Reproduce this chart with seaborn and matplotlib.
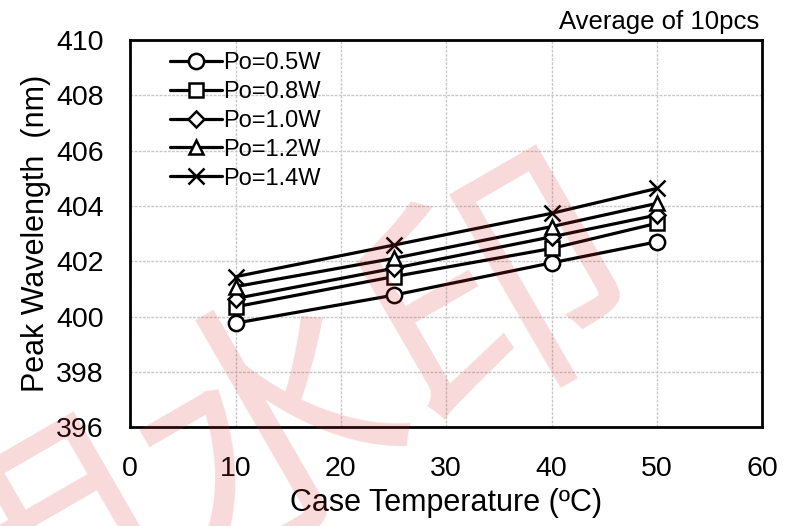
import numpy as np
import pandas as pd
import matplotlib
matplotlib.use("Agg")
import matplotlib.pyplot as plt
import seaborn as sns

# Case temperature (C) and peak wavelength (nm), average of 10pcs
temps = [10, 25, 40, 50]
po_labels = ["Po=0.5W", "Po=0.8W", "Po=1.0W", "Po=1.2W", "Po=1.4W"]
wl_05 = [399.76, 400.77, 401.94, 402.70]
wl_08 = [400.35, 401.44, 402.46, 403.37]
wl_10 = [400.65, 401.74, 402.88, 403.67]
wl_12 = [401.08, 402.10, 403.25, 404.09]
wl_14 = [401.44, 402.58, 403.73, 404.63]
markers = ["o", "s", "D", "^", "x"]

sns.set_theme(style="white")
plt.rcParams["font.family"] = ["Liberation Sans", "DejaVu Sans"]
plt.rcParams["text.color"] = "black"

fig = plt.figure(figsize=(7.89, 5.26), dpi=100)
ax = fig.add_axes([0.165, 0.188, 0.801, 0.736])

series = [wl_05, wl_08, wl_10, wl_12, wl_14]
for lab, vals, m in zip(po_labels, series, markers):
    df = pd.DataFrame({"Temp": temps, "WL": vals})
    ms = 11 if m in ("o", "x") else (8.5 if m == "D" else 10)
    sns.lineplot(data=df, x="Temp", y="WL", marker=m, color="black",
                 markerfacecolor="white", markeredgecolor="black",
                 markeredgewidth=1.8, markersize=ms, linewidth=2.3,
                 label=lab, ax=ax)

ax.set_xlim(0, 60)
ax.set_ylim(396, 410)
ax.set_xticks(np.arange(0, 61, 10))
ax.set_yticks(np.arange(396, 411, 2))
ax.grid(True, color="#c8c8c8", linestyle=(0, (2, 1)), linewidth=1)
ax.set_axisbelow(True)
for s in ax.spines.values():
    s.set_color("black")
    s.set_linewidth(2)
ax.tick_params(axis="both", length=0, labelsize=20.5, colors="black")
ax.tick_params(axis="x", pad=21)
ax.tick_params(axis="y", pad=19)
ax.set_xlabel("Case Temperature (ºC)", fontsize=22, color="black", labelpad=4)
ax.set_ylabel("Peak Wavelength  (nm)", fontsize=22, color="black", labelpad=4)

leg = ax.legend(loc="upper left", bbox_to_anchor=(0.04, 1.005), frameon=False,
                fontsize=17, handlelength=2.2, handletextpad=0.05,
                labelspacing=0.29, borderaxespad=0.2)
for t in leg.get_texts():
    t.set_color("black")

fig.text(0.962, 0.935, "Average of 10pcs", ha="right", va="bottom",
         fontsize=18.5, color="black")

# red watermark over the chart
fig.text(0.35, 0.17, "用水印", ha="center", va="center", fontsize=190,
         rotation=30, color="#e03030", alpha=0.18,
         family=["Noto Sans CJK SC", "DejaVu Sans"], zorder=10)

fig.savefig("out.png", dpi=100)
